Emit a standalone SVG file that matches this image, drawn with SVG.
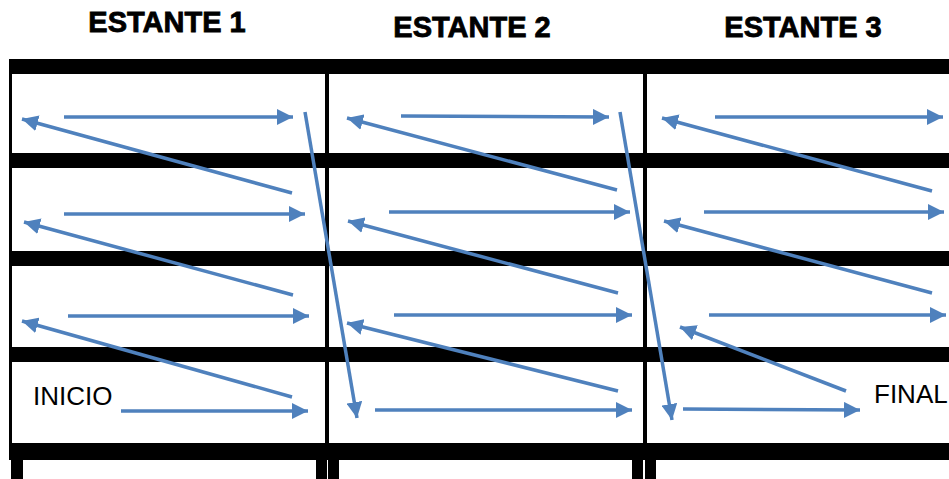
<svg xmlns="http://www.w3.org/2000/svg" width="949" height="479" viewBox="0 0 949 479">
  <style>
    .title { font-family: "Liberation Sans", Arial, sans-serif; font-weight: bold; font-size: 29px; fill: #000; stroke: #000; stroke-width: 0.8; text-anchor: middle; }
    .lbl { font-family: "Liberation Sans", Arial, sans-serif; font-size: 26px; fill: #000; }
    .bar { fill: #000; }
    .post { fill: #000; }
    .flow { fill: none; stroke: #4F81BD; stroke-width: 3.5; marker-end: url(#head); }
  </style>
  <defs>
    <marker id="head" markerUnits="userSpaceOnUse" markerWidth="17" markerHeight="16" refX="16" refY="8" orient="auto">
      <path d="M0,0 L16,8 L0,16 Z" fill="#4F81BD"/>
    </marker>
  </defs>

  <rect width="949" height="479" fill="#fff"/>

  <!-- shelf titles -->
  <g id="titles">
    <text class="title" x="167" y="32">ESTANTE 1</text>
    <text class="title" x="472" y="37">ESTANTE 2</text>
    <text class="title" x="803" y="37">ESTANTE 3</text>
  </g>

  <!-- shelving unit -->
  <g id="shelving">
    <rect class="bar" x="9" y="59" width="940" height="15"/>
    <rect class="bar" x="9" y="153" width="940" height="15"/>
    <rect class="bar" x="9" y="251" width="940" height="15"/>
    <rect class="bar" x="9" y="347" width="940" height="15"/>
    <rect class="bar" x="9" y="443" width="940" height="17"/>
    <!-- uprights -->
    <rect class="post" x="9" y="59" width="3" height="401"/>
    <rect class="post" x="325" y="59" width="4" height="401"/>
    <rect class="post" x="643" y="59" width="4" height="401"/>
    <!-- feet -->
    <rect class="post" x="11" y="460" width="12" height="19"/>
    <rect class="post" x="316" y="460" width="11" height="19"/>
    <rect class="post" x="328" y="460" width="11" height="19"/>
    <rect class="post" x="632" y="460" width="11" height="19"/>
    <rect class="post" x="645" y="460" width="11" height="19"/>
  </g>

  <g id="labels">
    <text class="lbl" x="33" y="405">INICIO</text>
    <text class="lbl" x="874" y="403">FINAL</text>
  </g>

  <!-- picking route -->
  <g id="connectors">
    <!-- estante 1 -->
    <line class="flow" x1="121" y1="411" x2="308" y2="411"/>
    <line class="flow" x1="292" y1="397" x2="22" y2="321"/>
    <line class="flow" x1="68" y1="316" x2="309" y2="316"/>
    <line class="flow" x1="293" y1="295" x2="24" y2="222"/>
    <line class="flow" x1="64" y1="214" x2="305" y2="214"/>
    <line class="flow" x1="292" y1="193" x2="22" y2="119"/>
    <line class="flow" x1="64" y1="117" x2="293" y2="117"/>
    <line class="flow" x1="305" y1="112" x2="357" y2="418"/>
    <!-- estante 2 -->
    <line class="flow" x1="375" y1="410" x2="632" y2="410"/>
    <line class="flow" x1="618" y1="391" x2="347" y2="323"/>
    <line class="flow" x1="394" y1="315" x2="632" y2="315"/>
    <line class="flow" x1="618" y1="293" x2="348" y2="221"/>
    <line class="flow" x1="389" y1="212" x2="630" y2="212"/>
    <line class="flow" x1="617" y1="190" x2="347" y2="118"/>
    <line class="flow" x1="401" y1="116" x2="609" y2="117"/>
    <line class="flow" x1="620" y1="112" x2="672" y2="420"/>
    <!-- estante 3 -->
    <line class="flow" x1="683" y1="409" x2="860" y2="410"/>
    <line class="flow" x1="846" y1="391" x2="680" y2="327"/>
    <line class="flow" x1="709" y1="315" x2="946" y2="315"/>
    <line class="flow" x1="932" y1="293" x2="664" y2="221"/>
    <line class="flow" x1="704" y1="212" x2="944" y2="212"/>
    <line class="flow" x1="932" y1="191" x2="662" y2="118"/>
    <line class="flow" x1="715" y1="117" x2="943" y2="117"/>
  </g>
</svg>
